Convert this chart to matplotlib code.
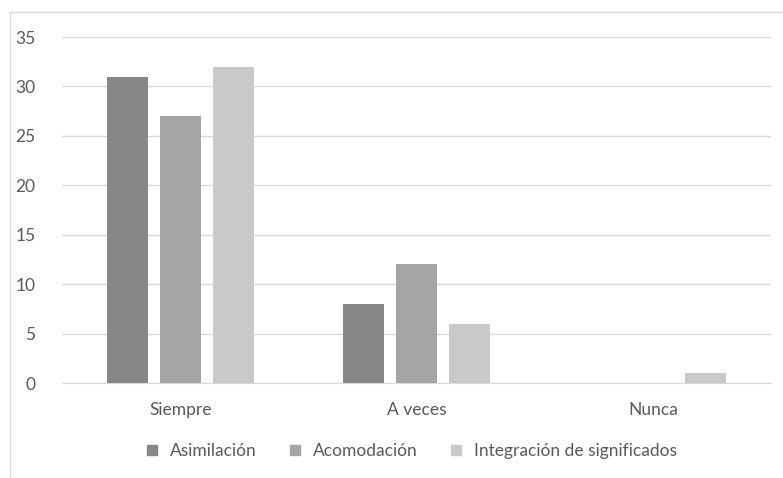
import numpy as np
import matplotlib
matplotlib.use("Agg")
import matplotlib.pyplot as plt
from matplotlib.patches import Rectangle
from matplotlib.lines import Line2D

categories = ["Siempre", "A veces", "Nunca"]
series_names = ["Asimilación", "Acomodación", "Integración de significados"]
asimilacion = [31, 8, 0]
acomodacion = [27, 12, 0]
integracion = [32, 6, 1]
y_ticks = [0, 5, 10, 15, 20, 25, 30, 35]

COLS = ["#878787", "#a5a5a5", "#c9c9c9"]
TXT = "#595959"
FS = 12.5
plt.rcParams.update({"font.family": ["Lato", "DejaVu Sans"], "font.size": FS})

W, H = 783, 478
fig = plt.figure(figsize=(W / 100, H / 100), dpi=100, facecolor="white")
fig.patches.append(Rectangle((10 / W, -0.1), 1.2, 1.1 - 12 / H,
                             transform=fig.transFigure, fill=False,
                             ec="#d9d9d9", lw=1.0))
ax = fig.add_axes([62 / W, 1 - 383 / H, (771 - 62) / W, (383 - 37) / H])

x = np.arange(len(categories))
bw = 0.174
off = 0.224
for i, vals in enumerate([asimilacion, acomodacion, integracion]):
    ax.bar(x + (i - 1) * off, vals, width=bw, color=COLS[i], zorder=3)

ax.set_xlim(-0.5, 2.5)
ax.set_ylim(0, 35)
ax.set_yticks(y_ticks)
ax.yaxis.grid(True, color="#d9d9d9", lw=1.0, zorder=0)
ax.set_xticks(x)
ax.set_xticklabels(categories)
ax.tick_params(axis="both", length=0, colors=TXT, labelsize=FS)
ax.tick_params(axis="y", pad=19)
ax.tick_params(axis="x", pad=14)
for s in ["top", "right", "left"]:
    ax.spines[s].set_visible(False)
ax.spines["bottom"].set_color("#d9d9d9")

handles = [Line2D([], [], ls="none", marker="s", ms=7, mfc=c, mec=c) for c in COLS]
fig.legend(handles, series_names, loc="center", ncol=3, frameon=False,
           bbox_to_anchor=(406 / W, 1 - 451 / H), handletextpad=0.05,
           columnspacing=1.2, labelcolor=TXT, fontsize=FS)

fig.savefig("out.png", dpi=100, facecolor="white")
